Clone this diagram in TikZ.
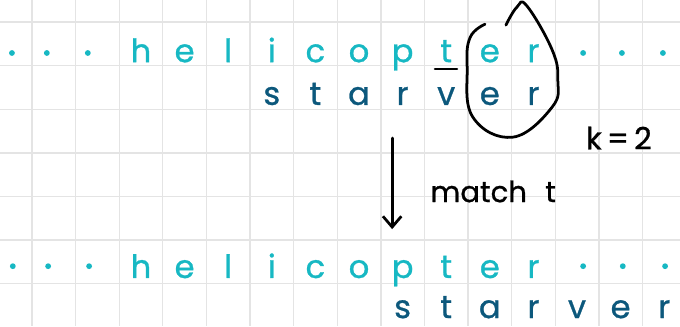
\documentclass[tikz,border=0pt]{standalone}
\usepackage{fontspec}
\setmainfont{Poppins}[FakeBold=0.9]
\usetikzlibrary{arrows.meta}
\definecolor{helicol}{RGB}{23,184,195}
\definecolor{starcol}{RGB}{12,88,124}
\definecolor{gridcol}{RGB}{228,228,228}

\begin{document}
\begin{tikzpicture}[every node/.style={inner sep=0pt, font=\fontsize{21}{24}\selectfont},
  txt/.style={anchor=base, text=helicol},
  pat/.style={anchor=base, text=starcol},
  dot/.style={circle, fill=helicol, minimum size=3.8pt},
  ink/.style={line width=1.8pt, black, line cap=round, line join=round}]
  \useasboundingbox (-0.734,-6.972) rectangle (14.862,0.505);
  % squared paper
  \draw[gridcol, line width=0.9pt] (-0.734,-6.972) grid (14.862,0.505);
  % text, before the shift
  \foreach \x [count=\n] in {-0.46,0.34,1.28,12.64,13.53,14.47} {
    \node[dot] (da-\n) at (\x,-0.71) {};
  }
  \foreach \c [count=\i from 2] in {h,e,l,i,c,o,p,t,e,r} {
    \node[txt] (ha-\i) at (\i+0.5,-0.92) {\c};
  }
  \foreach \c [count=\i from 5] in {s,t,a,r,v,e,r} {
    \node[pat] (sa-\i) at (\i+0.5,-1.90) {\c};
  }
  % mismatch mark and matched suffix
  \draw[ink, line width=1.5pt] (9.24,-1.08) -- (9.75,-1.08);
  \draw[ink] plot[smooth, tension=0.7] coordinates {(10.39,-0.05) (10.05,-0.35) (9.98,-1.03)
    (10.11,-2.18) (11.03,-2.64) (11.93,-1.95) (12.06,-1.33) (11.93,-0.64) (11.35,0.37)
    (11.12,0.34) (10.87,-0.07)};
  \node[font=\fontsize{20}{24}\selectfont, anchor=base] (kval) at (13.46,-2.92) {k\,=\,2};
  % shift
  \coordinate (arrtop) at (8.26,-2.66);
  \coordinate (arrtip) at (8.26,-4.75);
  \draw[ink, -{Straight Barb[length=7pt, width=12pt]}] (arrtop) -- (arrtip);
  \node[font=\fontsize{19}{24}\selectfont, anchor=base west] (match) at (9.13,-4.13) {match\hspace{12pt}t};
  % text, after the shift
  \foreach \x [count=\n] in {-0.44,0.37,1.31,12.64,13.55,14.52} {
    \node[dot] (db-\n) at (\x,-5.60) {};
  }
  \foreach \c [count=\i from 2] in {h,e,l,i,c,o,p,t,e,r} {
    \node[txt] (hb-\i) at (\i+0.5,-5.87) {\c};
  }
  \foreach \c [count=\i from 8] in {s,t,a,r,v,e,r} {
    \node[pat] (sb-\i) at (\i+0.5,-6.79) {\c};
  }
\end{tikzpicture}
\end{document}
